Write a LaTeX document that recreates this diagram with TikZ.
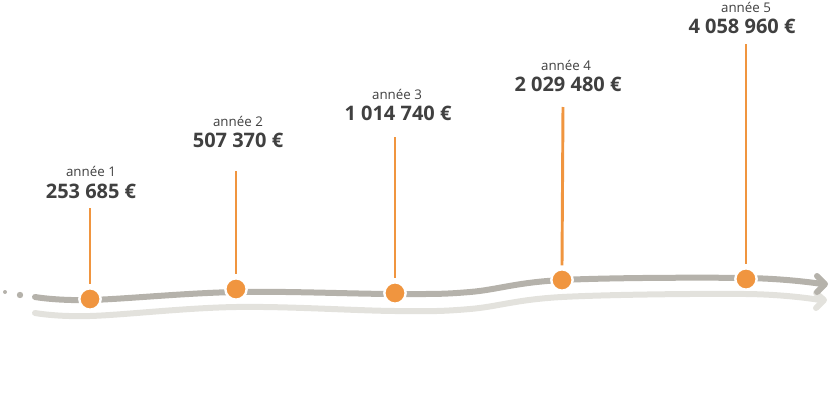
\documentclass[tikz,border=0pt]{standalone}
\usepackage{fontspec}
\setmainfont{Open Sans}
\usetikzlibrary{arrows.meta}
\definecolor{orng}{HTML}{F0953F}
\definecolor{grayA}{HTML}{B5B2AB}
\definecolor{grayB}{HTML}{E3E2DD}
\definecolor{txt}{HTML}{404040}
\begin{document}
\begin{tikzpicture}[x=0.75pt,y=-0.75pt,
  yearlbl/.style={font=\fontsize{10}{12}\selectfont, text=txt, inner sep=0pt},
  amount/.style={font=\fontsize{15}{17}\selectfont\bfseries, text=txt, inner sep=0pt},
  stem/.style={draw=orng, line width=2.2pt},
  dot/.style={circle, fill=orng, draw=white, line width=1.8pt, minimum size=16pt, inner sep=0pt},
  track/.style={line width=4.5pt, line cap=round, line join=round}]
\useasboundingbox (0,0) rectangle (836,400);
% lower light track
\draw[track, grayB] plot[smooth, tension=0.6] coordinates {(35,313) (90,316) (236,307) (395,311) (470,309) (562,297) (746,294) (820,300)};
\draw[track, grayB] (816,293) -- (824,300) -- (816,308);
% main track
\draw[track, grayA] plot[smooth, tension=0.6] coordinates {(35,297) (90,300) (236,292) (395,294) (470,292) (562,280) (746,278) (822,284)};
\draw[track, grayA] (817,276) -- (825,284) -- (817,292);
% left dots
\fill[grayA] (5,292) circle (2);
\fill[grayA] (20,295) circle (3.2);
% stems
\coordinate (s1) at (90,208); \coordinate (s2) at (236,171); \coordinate (s3) at (395,137);
\coordinate (s4) at (563,107); \coordinate (s5) at (746,44);
\node[dot] (d1) at (90,299) {};
\node[dot] (d2) at (236,289) {};
\node[dot] (d3) at (395,293) {};
\node[dot] (d4) at (562,280) {};
\node[dot] (d5) at (746,279) {};
\draw[stem] (s1) -- ([yshift=2pt]d1.north);
\draw[stem] (s2) -- ([yshift=2pt]d2.north);
\draw[stem] (s3) -- ([yshift=2pt]d3.north);
\draw[stem] (s4) -- ([yshift=2pt]d4.north);
\draw[stem] (s5) -- ([yshift=2pt]d5.north);
% labels
\node[yearlbl] (y1) at (91,171) {année 1};
\node[amount] (v1) at (91,191) {253 685 €};
\node[yearlbl] (y2) at (238,121) {année 2};
\node[amount] (v2) at (238,140) {507 370 €};
\node[yearlbl] (y3) at (397,94) {année 3};
\node[amount] (v3) at (398,113) {1 014 740 €};
\node[yearlbl] (y4) at (566,65) {année 4};
\node[amount] (v4) at (568,84) {2 029 480 €};
\node[yearlbl] (y5) at (746,7) {année 5};
\node[amount] (v5) at (742,26) {4 058 960 €};
\end{tikzpicture}
\end{document}
